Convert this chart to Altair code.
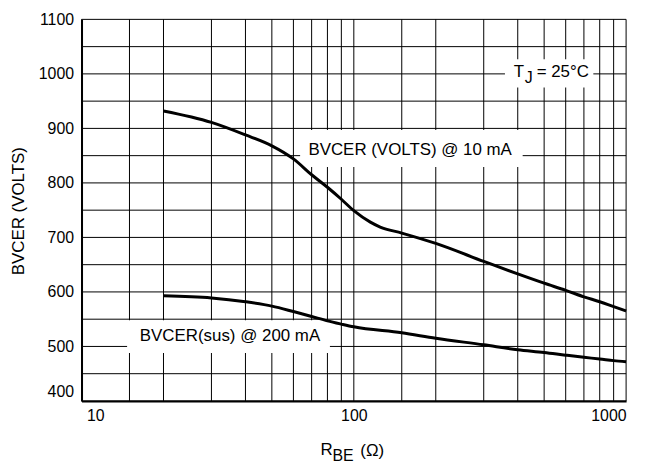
import altair as alt
import pandas as pd

FONT = "Liberation Sans, Arial, sans-serif"

# ---- data ----
x_upper = [20, 30, 40, 50, 60, 70, 80, 90, 100, 115, 125, 150, 200, 300, 400, 500, 600, 700, 800, 900, 1000]
y_upper = [932, 911, 888, 868, 844, 815, 792, 770, 749, 728, 719, 708, 689, 656, 633, 616, 603, 591, 582, 573, 565]
x_lower = [20, 30, 40, 50, 60, 70, 80, 90, 100, 150, 200, 300, 400, 500, 600, 700, 800, 900, 1000]
y_lower = [593, 589, 582, 574, 564, 555, 547, 541, 536, 525, 515, 503, 494, 489, 484, 480, 477, 474, 472]

x_grid = [10, 15, 20, 30, 40, 50, 60, 70, 80, 90, 100, 150, 200, 300, 400, 500, 600, 700, 800, 900, 1000]
x_labels = [10, 100, 1000]
y_grid = list(range(400, 1101, 50))
y_labels = list(range(400, 1101, 100))

label_texts = ["BVCER (VOLTS) @ 10 mA", "BVCER(sus) @ 200 mA"]
label_x = [161, 35.1]
label_y = [861, 519]

box_x = [63.5, 14.7, 359]
box_x2 = [417, 81.7, 758]
box_y = [829, 488, 975]
box_y2 = [897, 548, 1027]

curves = pd.concat([
    pd.DataFrame({"r": x_upper, "v": y_upper, "s": "10 mA"}),
    pd.DataFrame({"r": x_lower, "v": y_lower, "s": "200 mA"}),
])
boxes = pd.DataFrame({"x": box_x, "x2": box_x2, "y": box_y, "y2": box_y2})
labels = pd.DataFrame({"t": label_texts, "x": label_x, "y": label_y})
xg = pd.DataFrame({"g": x_grid})
yg = pd.DataFrame({"g": y_grid})

xs = alt.Scale(type="log", domain=[10, 1000], nice=False)
ys = alt.Scale(domain=[400, 1100], nice=False, zero=False)

xaxis = alt.Axis(
    values=x_labels, grid=False, ticks=False, title=None, format="d",
    labelOverlap=False, labelFontSize=16, labelColor="black", labelPadding=7,
    labelOffset={"condition": {"test": "datum.value == 10", "value": 5}, "value": 0},
    domainColor="black", domainWidth=2,
)
yaxis = alt.Axis(
    values=y_labels, grid=False, ticks=False, title=None, format="d",
    labelOverlap=False, labelFontSize=16, labelColor="black", labelPadding=8,
    labelOffset={"condition": {"test": "datum.value == 400", "value": -9}, "value": 0},
    domainColor="black", domainWidth=2,
)

vrules = alt.Chart(xg).mark_rule(color="black", strokeWidth=1).encode(
    x=alt.X("g:Q", scale=xs, axis=xaxis))
hrules = alt.Chart(yg).mark_rule(color="black", strokeWidth=1).encode(
    y=alt.Y("g:Q", scale=ys, axis=yaxis))

rects = alt.Chart(boxes).mark_rect(color="white", opacity=1).encode(
    x=alt.X("x:Q", scale=xs), x2="x2:Q",
    y=alt.Y("y:Q", scale=ys), y2="y2:Q",
)

lines = alt.Chart(curves).mark_line(color="black", strokeWidth=3, interpolate="monotone").encode(
    x=alt.X("r:Q", scale=xs),
    y=alt.Y("v:Q", scale=ys),
    detail="s:N",
)

texts = alt.Chart(labels).mark_text(fontSize=17, align="center", baseline="middle", color="black").encode(
    x=alt.X("x:Q", scale=xs), y=alt.Y("y:Q", scale=ys), text="t:N",
)

tj = pd.DataFrame({"x": [387], "y": [1004]})
tj_t = alt.Chart(tj).mark_text(text="T", fontSize=17, align="left", baseline="middle", color="black").encode(
    x=alt.X("x:Q", scale=xs), y=alt.Y("y:Q", scale=ys))
tj_j = alt.Chart(tj).mark_text(text="J", fontSize=16, align="left", baseline="middle", dx=11, dy=6, color="black").encode(
    x=alt.X("x:Q", scale=xs), y=alt.Y("y:Q", scale=ys))
tj_r = alt.Chart(tj).mark_text(text="= 25°C", fontSize=17, align="left", baseline="middle", dx=23, color="black").encode(
    x=alt.X("x:Q", scale=xs), y=alt.Y("y:Q", scale=ys))

one = pd.DataFrame({"k": [0]})
ytitle = alt.Chart(one).mark_text(text="BVCER (VOLTS)", fontSize=17, angle=270, align="center", baseline="middle", color="black").encode(
    x=alt.value(-63), y=alt.value(193))
xt_r = alt.Chart(one).mark_text(text="R", fontSize=17, align="left", baseline="alphabetic", color="black").encode(
    x=alt.value(240.5), y=alt.value(438.5))
xt_be = alt.Chart(one).mark_text(text="BE", fontSize=16, align="left", baseline="alphabetic", color="black").encode(
    x=alt.value(252.5), y=alt.value(444))
xt_o = alt.Chart(one).mark_text(text="(Ω)", fontSize=17, align="left", baseline="alphabetic", color="black").encode(
    x=alt.value(280.5), y=alt.value(439))

chart = alt.layer(
    vrules, hrules, rects, lines, texts, tj_t, tj_j, tj_r, ytitle, xt_r, xt_be, xt_o
).properties(
    width=548, height=384,
    autosize=alt.AutoSizeParams(type="none"),
    padding={"left": 74, "top": 10, "right": 15, "bottom": 62},
).configure(font=FONT).configure_view(stroke=None)

chart.save("out.html", embed_options={"renderer": "svg", "actions": False})
